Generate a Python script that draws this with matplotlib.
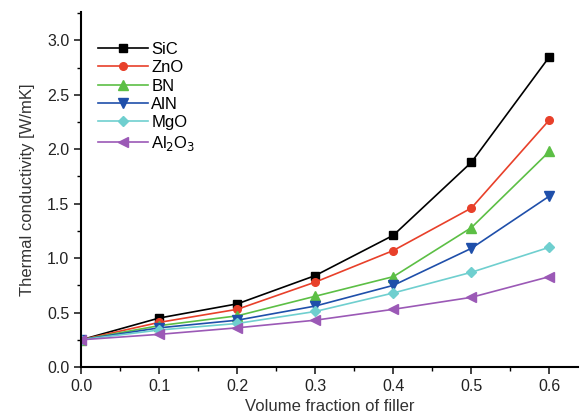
import matplotlib
matplotlib.use("Agg")
import matplotlib.pyplot as plt
from matplotlib.ticker import MultipleLocator

plt.rcParams['font.family'] = ['Liberation Sans', 'DejaVu Sans']

x = [0.0, 0.1, 0.2, 0.3, 0.4, 0.5, 0.6]
sic = [0.25, 0.45, 0.58, 0.84, 1.21, 1.88, 2.85]
zno = [0.25, 0.41, 0.53, 0.78, 1.07, 1.46, 2.27]
bn = [0.25, 0.38, 0.47, 0.65, 0.83, 1.28, 1.98]
aln = [0.25, 0.36, 0.43, 0.56, 0.75, 1.09, 1.57]
mgo = [0.25, 0.34, 0.40, 0.51, 0.68, 0.87, 1.10]
al2o3 = [0.25, 0.30, 0.36, 0.43, 0.53, 0.64, 0.83]

labels = ['SiC', 'ZnO', 'BN', 'AlN', 'MgO', r'Al$_2$O$_3$']
series = [sic, zno, bn, aln, mgo, al2o3]
colors = ['#000000', '#e8402a', '#5cbf45', '#1f4faa', '#6fcfcf', '#9b59b6']
markers = ['s', 'o', '^', 'v', 'D', '<']
msizes = [5.5, 5.5, 6.5, 6.5, 5.5, 6.5]

fig = plt.figure(figsize=(5.8, 4.18), dpi=100)
ax = fig.add_axes([0.14, 0.122, 0.857, 0.849])

for y, lab, c, m, ms in zip(series, labels, colors, markers, msizes):
    ax.plot(x, y, color=c, marker=m, markersize=ms, linewidth=1.2, label=lab)

ax.set_xlim(0, 0.637)
ax.set_ylim(0, 3.26)
ax.xaxis.set_major_locator(MultipleLocator(0.1))
ax.xaxis.set_minor_locator(MultipleLocator(0.05))
ax.yaxis.set_major_locator(MultipleLocator(0.5))
ax.yaxis.set_minor_locator(MultipleLocator(0.25))
ax.xaxis.set_major_formatter(matplotlib.ticker.FormatStrFormatter('%.1f'))
ax.yaxis.set_major_formatter(matplotlib.ticker.FormatStrFormatter('%.1f'))
ax.spines['top'].set_visible(False)
ax.spines['right'].set_visible(False)
for s in ['left', 'bottom']:
    ax.spines[s].set_linewidth(1.5)
ax.tick_params(which='major', direction='out', length=5, width=1.2, labelsize=11.5, colors='#222222')
ax.tick_params(which='minor', direction='out', length=3, width=1.0)
ax.set_xlabel('Volume fraction of filler', fontsize=12, color='#333333', labelpad=4)
ax.set_ylabel('Thermal conductivity [W/mK]', fontsize=12, color='#333333', labelpad=9)

leg = ax.legend(loc='upper left', bbox_to_anchor=(0.02, 0.935), frameon=False,
                fontsize=12, handlelength=3.0, labelspacing=0.2, handletextpad=0.2,
                borderaxespad=0)

fig.savefig('out.png', dpi=100)
